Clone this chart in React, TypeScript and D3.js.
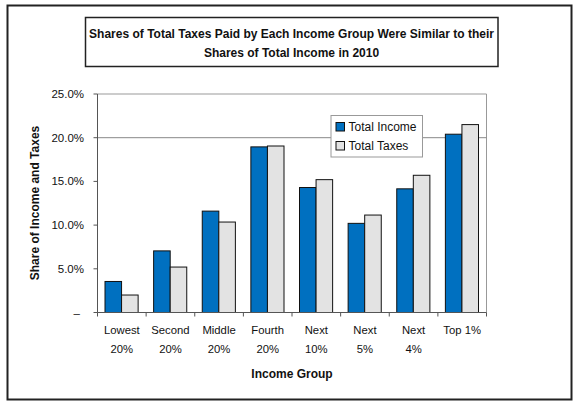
import React from "react";
import * as d3 from "d3";

const categories = ["Lowest|20%", "Second|20%", "Middle|20%", "Fourth|20%", "Next|10%", "Next|5%", "Next|4%", "Top 1%"];
const totalIncome = [3.55, 7.05, 11.6, 18.95, 14.3, 10.2, 14.15, 20.4];
const totalTaxes = [2.0, 5.2, 10.35, 19.05, 15.2, 11.15, 15.7, 21.5];
const seriesNames = ["Total Income", "Total Taxes"];
const yTicks = [0, 5, 10, 15, 20, 25];
const gridValues = [20];
const titleLines = [
  "Shares of Total Taxes Paid by Each Income Group Were Similar to their",
  "Shares of Total Income in 2010",
];

const W = 580;
const H = 407;
const FONT = "Liberation Sans, Arial, sans-serif";
const colors = ["#0070C0", "#E3E3E3"];

export default function App() {
  const left = 97.5;
  const right = 486.5;
  const top = 94;
  const bottom = 312.5;

  const x = d3.scaleBand<number>().domain(d3.range(categories.length)).range([left, right]).paddingInner(0).paddingOuter(0);
  const inner = d3.scaleBand<number>().domain([0, 1]).range([7.5, x.bandwidth() - 8]).padding(0);
  const y = d3.scaleLinear().domain([0, 25]).range([bottom, top]);
  const series = [totalIncome, totalTaxes];
  const fmt = (v: number) => (v === 0 ? "–" : d3.format(".1f")(v) + "%");

  return (
    <svg width={W} height={H} style={{ position: "absolute", left: 0, top: 0, fontFamily: FONT }}>
      <rect x={0} y={0} width={W} height={H} fill="#fff" />
      <rect x={7.5} y={5.5} width={564} height={394} fill="#fff" stroke="#222" strokeWidth={2} />
      <rect x={85.5} y={17.5} width={412.5} height={49} fill="#fff" stroke="#222" strokeWidth={1.5} />
      {titleLines.map((t, i) => (
        <text key={i} x={291.5} y={37.5 + i * 19.5} textAnchor="middle" fontSize={12} fontWeight="bold" fill="#111">
          {t}
        </text>
      ))}

      {/* plot area border (top/right) */}
      <path d={`M${left},${top}H${right}V${bottom}`} fill="none" stroke="#999" strokeWidth={1} />
      {gridValues.map((g) => (
        <line key={g} x1={left} x2={right} y1={y(g)} y2={y(g)} stroke="#888" strokeWidth={1} />
      ))}

      {/* bars */}
      {series.map((vals, s) =>
        vals.map((v, i) => (
          <rect
            key={`${s}-${i}`}
            x={x(i)! + inner(s)!}
            y={y(v)}
            width={inner.bandwidth()}
            height={y(0) - y(v)}
            fill={colors[s]}
            stroke="#111"
            strokeWidth={1}
          />
        ))
      )}

      {/* y axis */}
      <line x1={left} x2={left} y1={top} y2={bottom} stroke="#555" strokeWidth={1} />
      {yTicks.map((t) => (
        <g key={t}>
          <line x1={left - 4} x2={left} y1={y(t)} y2={y(t)} stroke="#555" />
          <text x={t === 0 ? 80 : 84} y={y(t)} dy="0.35em" textAnchor="end" fontSize={11.5} fill="#111">
            {fmt(t)}
          </text>
        </g>
      ))}
      {/* x axis */}
      <line x1={left} x2={right} y1={bottom} y2={bottom} stroke="#555" strokeWidth={1} />
      {d3.range(categories.length + 1).map((i) => {
        const xx = i < categories.length ? x(i)! : right;
        return <line key={i} x1={xx} x2={xx} y1={bottom} y2={bottom + 4} stroke="#555" />;
      })}
      {categories.map((c, i) =>
        c.split("|").map((ln, j) => (
          <text key={`${i}-${j}`} x={x(i)! + x.bandwidth() / 2} y={330.5 + j * 18.5} dy="0.35em" textAnchor="middle" fontSize={11.3} fill="#111">
            {ln}
          </text>
        ))
      )}
      <text x={292} y={374} dy="0.35em" textAnchor="middle" fontSize={12} fontWeight="bold" fill="#111">
        Income Group
      </text>
      <text transform={`translate(35,203) rotate(-90)`} dy="0.35em" textAnchor="middle" fontSize={12} fontWeight="bold" fill="#111">
        Share of Income and Taxes
      </text>

      {/* legend */}
      <rect x={331} y={115.5} width={91.5} height={41.5} fill="#fff" stroke="#999" strokeWidth={1} />
      {seriesNames.map((n, i) => (
        <g key={n}>
          <rect x={336} y={122.5 + i * 19} width={8.5} height={8.5} fill={colors[i]} stroke="#111" strokeWidth={1} />
          <text x={348.5} y={127 + i * 19} dy="0.35em" fontSize={12} fill="#111">
            {n}
          </text>
        </g>
      ))}
    </svg>
  );
}
